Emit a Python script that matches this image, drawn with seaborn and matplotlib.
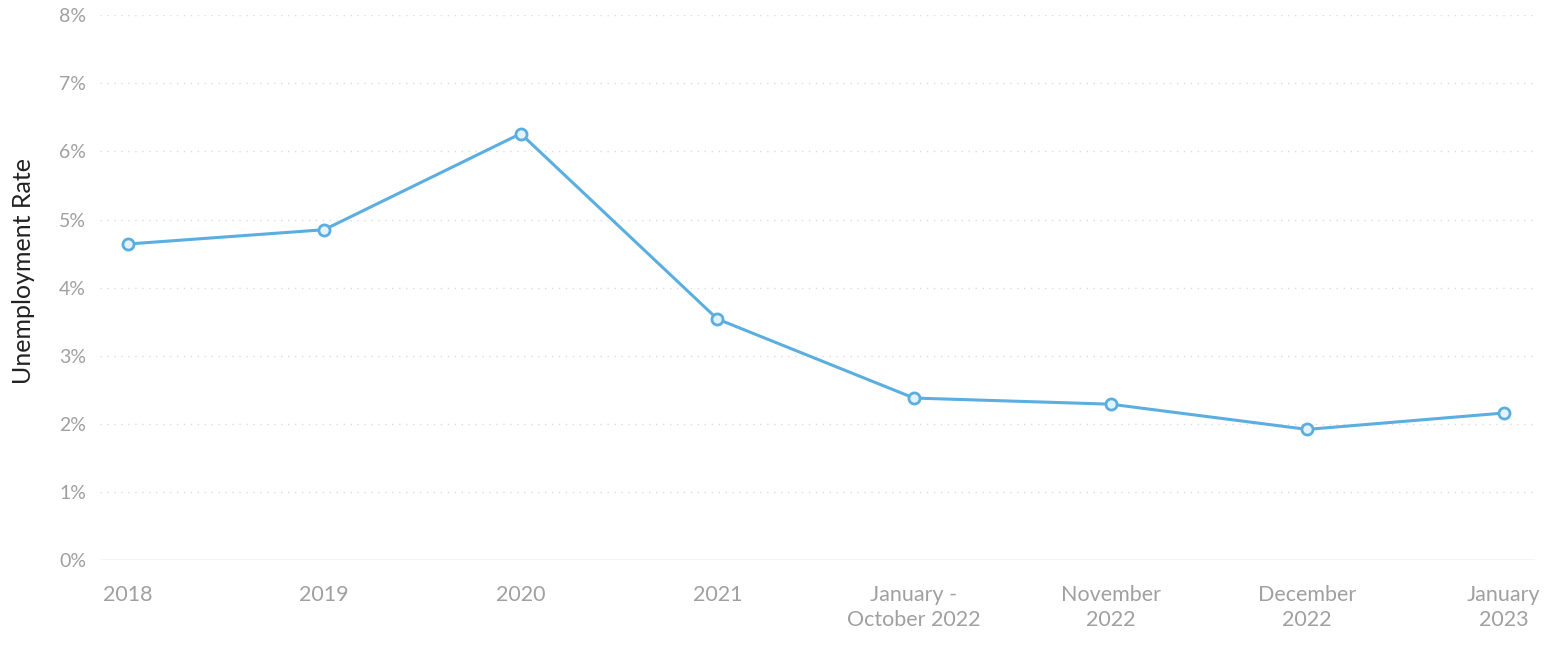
import matplotlib
matplotlib.use("Agg")
import matplotlib.pyplot as plt
import pandas as pd
import seaborn as sns

# Data
periods = ["2018", "2019", "2020", "2021", "January -\nOctober 2022",
           "November\n2022", "December\n2022", "January\n2023"]
rates = [4.64, 4.85, 6.26, 3.54, 2.38, 2.29, 1.92, 2.16]
y_ticks = [0, 1, 2, 3, 4, 5, 6, 7, 8]

df = pd.DataFrame({"period": periods, "rate": rates})

sns.set_theme(style="white")
plt.rcParams["font.family"] = ["Lato", "DejaVu Sans"]

fig = plt.figure(figsize=(15.5, 6.56), dpi=100)
ax = fig.add_axes([0.0645, 0.146, 0.926, 0.831])

line_color = "#5aaee0"
sns.lineplot(data=df, x="period", y="rate", sort=False, ax=ax,
             color=line_color, linewidth=2.2, marker="o", markersize=8,
             markerfacecolor="#e4f3fb", markeredgecolor=line_color,
             markeredgewidth=2)

ax.set_xlim(-0.14, 7.16)
ax.set_ylim(0, 8)
ax.set_yticks(y_ticks)
ax.set_yticklabels([f"{t}%" for t in y_ticks])

for t in y_ticks[1:]:
    ax.axhline(t, color="#dcdcdc", linewidth=1, linestyle=(0, (1, 4)), zorder=0)
ax.axhline(0, color="#c8c8c8", linewidth=1, zorder=0)

for s in ax.spines.values():
    s.set_visible(False)

ax.tick_params(axis="both", length=0, colors="#a0a0a0")
ax.tick_params(axis="y", pad=10, labelsize=14)
ax.tick_params(axis="x", pad=18, labelsize=15.5)
for lbl in ax.get_xticklabels():
    lbl.set_linespacing(1.3)
ax.set_xlabel("")
ax.set_ylabel("Unemployment Rate", fontsize=18, color="#222222")
ax.yaxis.set_label_coords(-0.045, 0.53)

fig.savefig("out.png", dpi=100)
